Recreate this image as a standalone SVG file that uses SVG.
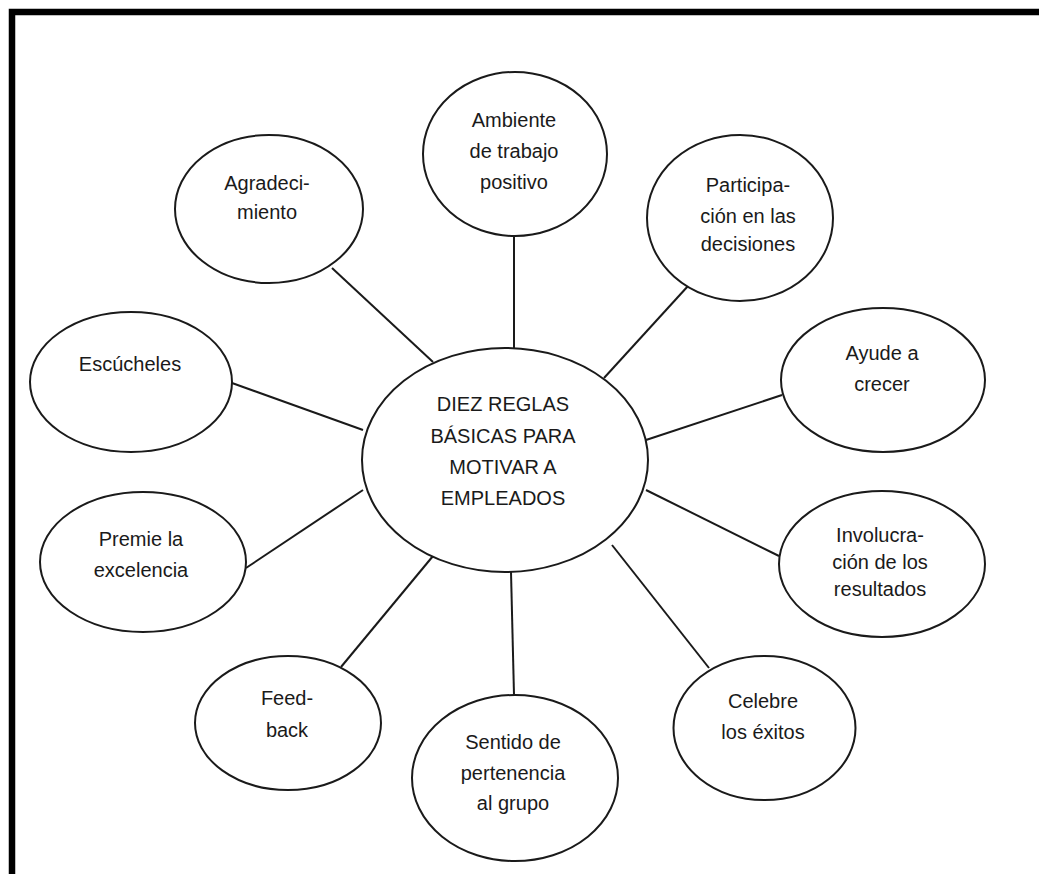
<svg xmlns="http://www.w3.org/2000/svg" width="1039" height="874" viewBox="0 0 1039 874">
<style>
.n ellipse{fill:#fff;stroke:#1a1a1a;stroke-width:2}
.c line{stroke:#1a1a1a;stroke-width:2}
text{font-family:"Liberation Sans",Arial,sans-serif;font-size:20px;fill:#1a1a1a;text-anchor:middle}
</style>
<rect width="1039" height="874" fill="#fff"/>
<path d="M12,874 V12 H1039" fill="none" stroke="#000" stroke-width="6.5"/>
<g id="connectors" class="c">
<line x1="514" y1="237" x2="514" y2="349"/>
<line x1="332" y1="268" x2="433" y2="362"/>
<line x1="688" y1="286" x2="604" y2="378"/>
<line x1="232" y1="383" x2="363" y2="430"/>
<line x1="782" y1="395" x2="646" y2="440"/>
<line x1="246" y1="568" x2="363" y2="490"/>
<line x1="779" y1="556" x2="646" y2="490"/>
<line x1="341" y1="667" x2="433" y2="556"/>
<line x1="511" y1="572" x2="514" y2="695"/>
<line x1="612" y1="545" x2="709" y2="668"/>
</g>
<g id="center" class="n"><ellipse cx="505" cy="460" rx="143" ry="112"/>
<text x="503" y="411">DIEZ REGLAS</text><text x="503" y="443">BÁSICAS PARA</text><text x="503" y="474">MOTIVAR A</text><text x="503" y="505">EMPLEADOS</text></g>
<g id="ambiente" class="n"><ellipse cx="515" cy="154" rx="92" ry="82"/>
<text x="514" y="127">Ambiente</text><text x="514" y="158">de trabajo</text><text x="514" y="189">positivo</text></g>
<g id="agradecimiento" class="n"><ellipse cx="269" cy="209" rx="94" ry="74"/>
<text x="267" y="190">Agradeci-</text><text x="267" y="219">miento</text></g>
<g id="participacion" class="n"><ellipse cx="740" cy="218" rx="93" ry="83"/>
<text x="748" y="192">Participa-</text><text x="748" y="223">ción en las</text><text x="748" y="251">decisiones</text></g>
<g id="escucheles" class="n"><ellipse cx="131" cy="382" rx="101" ry="70"/>
<text x="130" y="371">Escúcheles</text></g>
<g id="ayude" class="n"><ellipse cx="883" cy="380" rx="102" ry="72"/>
<text x="882" y="360">Ayude a</text><text x="882" y="391">crecer</text></g>
<g id="premie" class="n"><ellipse cx="143" cy="562" rx="103" ry="70"/>
<text x="141" y="546">Premie la</text><text x="141" y="577">excelencia</text></g>
<g id="involucracion" class="n"><ellipse cx="882" cy="564" rx="103" ry="73"/>
<text x="880" y="542">Involucra-</text><text x="880" y="569">ción de los</text><text x="880" y="596">resultados</text></g>
<g id="feedback" class="n"><ellipse cx="288" cy="723" rx="93" ry="67"/>
<text x="287" y="705">Feed-</text><text x="287" y="737">back</text></g>
<g id="sentido" class="n"><ellipse cx="515" cy="778" rx="103" ry="83"/>
<text x="513" y="749">Sentido de</text><text x="513" y="780">pertenencia</text><text x="513" y="810">al grupo</text></g>
<g id="celebre" class="n"><ellipse cx="764.5" cy="728" rx="91" ry="72"/>
<text x="763" y="708">Celebre</text><text x="763" y="739">los éxitos</text></g>
</svg>
